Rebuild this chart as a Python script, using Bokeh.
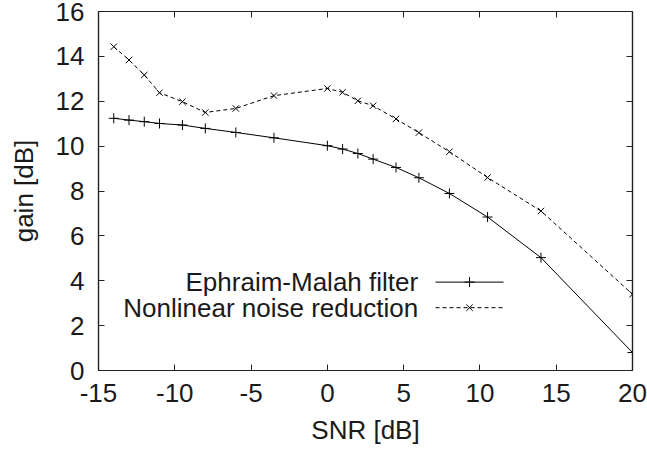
from bokeh.plotting import figure
from bokeh.models import Range1d, LinearAxis, SingleIntervalTicker, Label, ColumnDataSource, CustomJSTickFormatter
from bokeh.embed import file_html
from bokeh.resources import INLINE

snr = [-14, -13, -12, -11, -9.5, -8, -6, -3.5, 0, 1, 2, 3, 4.5, 6, 8, 10.5, 14, 20]
em_gain = [11.24, 11.16, 11.09, 11.01, 10.94, 10.79, 10.61, 10.37, 10.02, 9.87,
           9.67, 9.42, 9.05, 8.59, 7.89, 6.84, 5.03, 0.8]
nl_gain = [14.43, 13.84, 13.17, 12.38, 11.98, 11.5, 11.68, 12.25, 12.57, 12.40,
           12.02, 11.80, 11.21, 10.6, 9.75, 8.60, 7.11, 3.4]
series_names = ["Ephraim-Malah filter", "Nonlinear noise reduction"]
x_ticks = [-15, -10, -5, 0, 5, 10, 15, 20]
x_tick_labels = ["-15", "-10", "-5", "0", "5", "10", "15", "20"]
y_ticks = [0, 2, 4, 6, 8, 10, 12, 14, 16]
x_label = "SNR [dB]"
y_label = "gain [dB]"

FONT = "Liberation Sans"
TXT = "#1a1a1a"
FS = "26px"

p = figure(width=647, height=457, output_backend="svg", toolbar_location=None,
           x_range=Range1d(-15, 20), y_range=Range1d(0, 16),
           min_border_left=98, min_border_right=15, min_border_top=11, min_border_bottom=87)
p.grid.visible = False
p.outline_line_color = "#222222"
p.outline_line_width = 1.2
p.background_fill_color = "white"
p.border_fill_color = "white"

for ax, ticks in ((p.xaxis[0], x_ticks), (p.yaxis[0], y_ticks)):
    ax.ticker = ticks
    ax.minor_tick_line_color = None
    ax.major_tick_in = 6
    ax.major_tick_out = 0
    ax.axis_line_color = "#222222"
    ax.axis_line_width = 1.2
    ax.major_tick_line_color = "#222222"
    ax.major_label_text_font = FONT
    ax.major_label_text_font_size = FS
    ax.major_label_text_color = TXT
    ax.axis_label_text_font = FONT
    ax.axis_label_text_font_size = FS
    ax.axis_label_text_font_style = "normal"
    ax.axis_label_text_color = TXT

p.xaxis[0].major_label_overrides = {t: s for t, s in zip(x_ticks, x_tick_labels)}
p.xaxis[0].axis_label = x_label
p.yaxis[0].axis_label = y_label
p.xaxis[0].major_label_standoff = 13
p.xaxis[0].axis_label_standoff = 10
p.yaxis[0].major_label_standoff = 14
p.yaxis[0].axis_label_standoff = 14

for loc, ticks in (("right", y_ticks), ("above", x_ticks)):
    a = LinearAxis(ticker=ticks, formatter=CustomJSTickFormatter(code="return ''"))
    a.minor_tick_line_color = None
    a.major_tick_in = 6
    a.major_tick_out = 0
    a.major_label_standoff = 0
    a.axis_line_color = "#222222"
    a.axis_line_width = 1.2
    a.major_tick_line_color = "#222222"
    p.add_layout(a, loc)

src = ColumnDataSource(dict(x=snr, em=em_gain, nl=nl_gain))
p.line("x", "em", source=src, line_color="black", line_width=1)
p.scatter("x", "em", source=src, marker="cross", size=10, line_color="black", line_width=1)
p.line("x", "nl", source=src, line_color="black", line_width=1, line_dash="4 3")
p.scatter("x", "nl", source=src, marker="x", size=9, line_color="black", line_width=1)

# legend (gnuplot style: text right-aligned, sample to the right)
leg_text_x = 5.95
leg_x0, leg_x1, leg_xm = 7.09, 11.55, 9.32
rows = [3.94, 2.80]
for name, y, dash, mk, ms in ((series_names[0], rows[0], "solid", "cross", 10),
                              (series_names[1], rows[1], "4 3", "x", 9)):
    p.add_layout(Label(x=leg_text_x, y=y, text=name, text_align="right", text_baseline="middle",
                       text_font=FONT, text_font_size=FS, text_color=TXT))
    p.line([leg_x0, leg_x1], [y, y], line_color="black", line_width=1, line_dash=dash)
    p.scatter([leg_xm], [y], marker=mk, size=ms, line_color="black", line_width=1)

open("out.html", "w").write(file_html(p, INLINE))
